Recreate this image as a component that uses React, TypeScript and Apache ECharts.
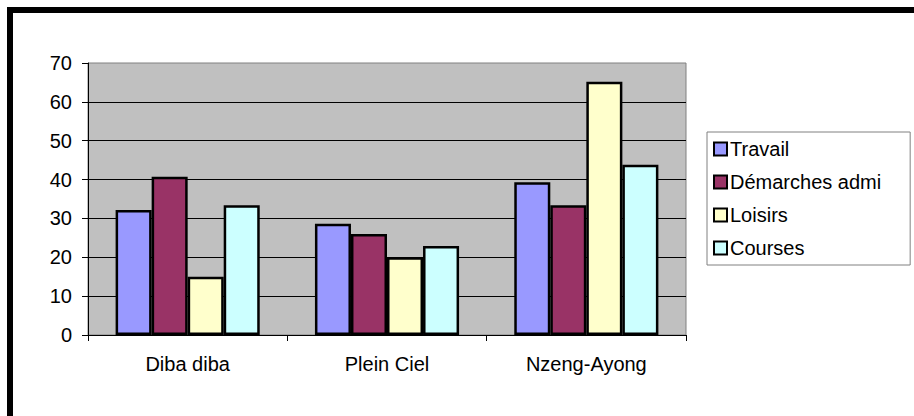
import React, { useEffect, useRef } from "react";
import * as echarts from "echarts";

const categories = ["Diba diba", "Plein Ciel", "Nzeng-Ayong"];
const seriesNames = ["Travail", "Démarches admi", "Loisirs", "Courses"];
const travail = [32.2, 28.6, 39.3];
const demarches = [40.7, 26, 33.4];
const loisirs = [15, 20, 65.2];
const courses = [33.4, 22.9, 43.8];
const seriesColors = ["#9999ff", "#993366", "#ffffcc", "#ccffff"];
const yTicks = { min: 0, max: 70, interval: 10 };

const FONT = "Liberation Sans";

export default function App() {
  const ref = useRef<HTMLDivElement>(null);
  useEffect(() => {
    if (!ref.current) return;
    const chart = echarts.init(ref.current, null, { renderer: "svg" });
    const data = [travail, demarches, loisirs, courses];
    chart.setOption({
      animation: false,
      backgroundColor: "#ffffff",
      textStyle: { fontFamily: FONT, color: "#000" },
      grid: {
        left: 88,
        top: 63,
        right: 228,
        bottom: 81,
        show: true,
        backgroundColor: "#c0c0c0",
        borderColor: "#808080",
        borderWidth: 1,
      },
      legend: {
        orient: "vertical",
        left: 707,
        top: 132,
        padding: [7, 29, 7, 6],
        itemGap: 13,
        itemWidth: 13,
        itemHeight: 13,
        backgroundColor: "#ffffff",
        borderColor: "#808080",
        borderWidth: 1,
        borderRadius: 0,
        icon: "rect",
        textStyle: { fontFamily: FONT, fontSize: 20, color: "#000", lineHeight: 20, padding: [0, 0, 0, -2] },
        itemStyle: { borderColor: "#000", borderWidth: 2 },
        data: seriesNames,
      },
      xAxis: {
        type: "category",
        data: categories,
        axisLine: { show: true, lineStyle: { color: "#000", width: 1 } },
        axisTick: { show: true, length: 6, lineStyle: { color: "#000" } },
        axisLabel: { fontFamily: FONT, fontSize: 20, color: "#000", margin: 19 },
        splitLine: { show: false },
      },
      yAxis: {
        type: "value",
        min: yTicks.min,
        max: yTicks.max,
        interval: yTicks.interval,
        axisLine: { show: true, lineStyle: { color: "#000", width: 1 } },
        axisTick: { show: true, length: 6, lineStyle: { color: "#000" } },
        axisLabel: { fontFamily: FONT, fontSize: 20, color: "#000", margin: 16 },
        splitLine: { show: true, showMinLine: false, showMaxLine: false, lineStyle: { color: "#000", width: 1 } },
      },
      series: seriesNames.map((name, i) => ({
        name,
        type: "bar",
        data: data[i],
        barGap: "0%",
        barCategoryGap: "27.7%",
        itemStyle: { color: seriesColors[i], borderColor: "#000", borderWidth: 2.5 },
      })),
      graphic: [
        { type: "line", shape: { x1: 10, y1: 7, x2: 10, y2: 416 }, style: { stroke: "#000", lineWidth: 6 } },
        { type: "line", shape: { x1: 7, y1: 10, x2: 914, y2: 10 }, style: { stroke: "#000", lineWidth: 6 } },
      ],
    });
    return () => chart.dispose();
  }, []);
  return (
    <div
      ref={ref}
      style={{ position: "absolute", left: 0, top: 0, width: 914, height: 416 }}
    />
  );
}
